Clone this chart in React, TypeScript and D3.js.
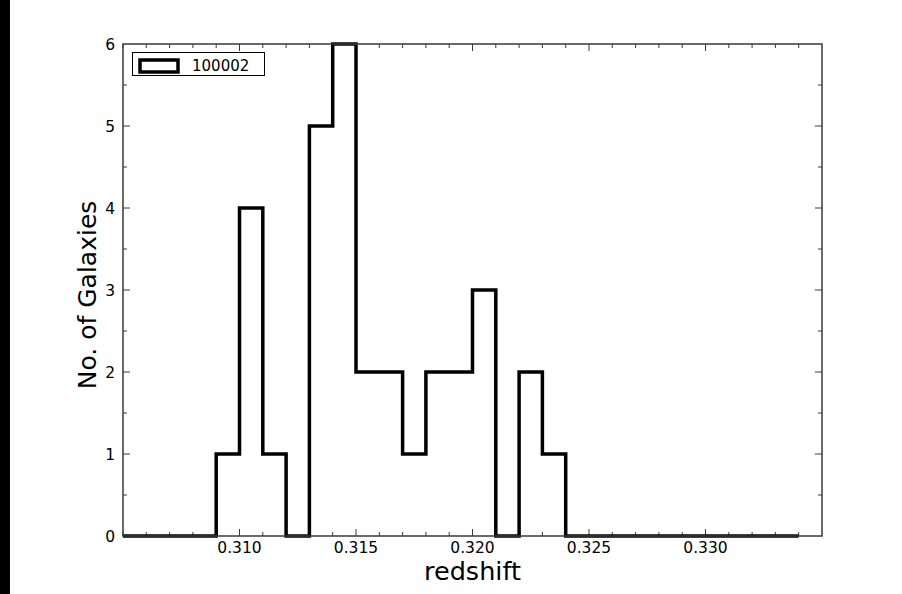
import React, { useEffect, useRef } from 'react';
import * as d3 from 'd3';

// bin left edges (redshift), last value closes the final bin
const binEdges = [
  0.305, 0.306, 0.307, 0.308, 0.309, 0.31, 0.311, 0.312, 0.313, 0.314,
  0.315, 0.316, 0.317, 0.318, 0.319, 0.32, 0.321, 0.322, 0.323, 0.324,
  0.325, 0.326, 0.327, 0.328, 0.329, 0.33, 0.331, 0.332, 0.333, 0.334,
];
// galaxy counts per bin
const counts = [0, 0, 0, 0, 1, 4, 1, 0, 5, 6, 2, 2, 1, 2, 2, 3, 0, 2, 1, 0, 0, 0, 0, 0, 0, 0, 0, 0, 0];

const xMajorTicks = [0.31, 0.315, 0.32, 0.325, 0.33];
const yMajorTicks = [0, 1, 2, 3, 4, 5, 6];
const seriesName = '100002';

const W = 902;
const H = 594;
const margin = { top: 44, right: 80, bottom: 58, left: 123 };
const font = '"DejaVu Sans", sans-serif';

export default function App() {
  const ref = useRef<SVGSVGElement>(null);

  useEffect(() => {
    const svg = d3.select(ref.current);
    svg.selectAll('*').remove();

    const innerW = W - margin.left - margin.right;
    const innerH = H - margin.top - margin.bottom;

    const x = d3.scaleLinear().domain([0.305, 0.335]).range([margin.left, margin.left + innerW]);
    const y = d3.scaleLinear().domain([0, 6]).range([margin.top + innerH, margin.top]);

    svg.append('rect').attr('width', W).attr('height', H).attr('fill', '#fff');
    // dark strip at left edge
    svg.append('rect').attr('x', 0).attr('y', 0).attr('width', 10).attr('height', H).attr('fill', '#000');

    const frameColor = '#3a3a3a';
    const x0 = x.range()[0], x1 = x.range()[1];
    const y0 = y.range()[0], y1 = y.range()[1];

    // ticks (all pointing inward)
    const xMinor = d3.range(0, 30).map(i => 0.305 + i * 0.001).filter(v => !xMajorTicks.some(m => Math.abs(m - v) < 1e-6));
    const yMinor = d3.range(0.5, 6, 1);
    const g = svg.append('g').attr('stroke', frameColor).attr('stroke-width', 1);

    const addXTicks = (vals: number[], len: number) => {
      vals.forEach(v => {
        g.append('line').attr('x1', x(v)).attr('x2', x(v)).attr('y1', y0).attr('y2', y0 - len);
        g.append('line').attr('x1', x(v)).attr('x2', x(v)).attr('y1', y1).attr('y2', y1 + len);
      });
    };
    const addYTicks = (vals: number[], len: number) => {
      vals.forEach(v => {
        g.append('line').attr('x1', x0).attr('x2', x0 + len).attr('y1', y(v)).attr('y2', y(v));
        g.append('line').attr('x1', x1).attr('x2', x1 - len).attr('y1', y(v)).attr('y2', y(v));
      });
    };
    addXTicks(xMajorTicks, 7);
    addXTicks(xMinor, 4);
    addYTicks(yMajorTicks.slice(1, -1), 7);
    addYTicks(yMinor, 4);

    // tick labels
    svg.append('g')
      .selectAll('text')
      .data(xMajorTicks)
      .join('text')
      .attr('x', d => x(d))
      .attr('y', y0 + 17)
      .attr('text-anchor', 'middle')
      .attr('font-family', font)
      .attr('font-size', 15.5)
      .text(d => d3.format('.3f')(d));

    svg.append('g')
      .selectAll('text')
      .data(yMajorTicks)
      .join('text')
      .attr('x', x0 - 8)
      .attr('y', d => y(d) + 6)
      .attr('text-anchor', 'end')
      .attr('font-family', font)
      .attr('font-size', 15.5)
      .text(d => d);

    // histogram step line
    const pts: [number, number][] = binEdges.map((e, i) => [e, i < counts.length ? counts[i] : counts[counts.length - 1]]);
    const line = d3.line<[number, number]>()
      .x(d => x(d[0]))
      .y(d => y(d[1]))
      .curve(d3.curveStepAfter);
    svg.append('path')
      .attr('d', line(pts))
      .attr('fill', 'none')
      .attr('stroke', '#000')
      .attr('stroke-width', 3.5)
      .attr('stroke-linejoin', 'miter');

    // frame
    svg.append('rect')
      .attr('x', x0).attr('y', y1)
      .attr('width', x1 - x0).attr('height', y0 - y1)
      .attr('fill', 'none')
      .attr('stroke', frameColor)
      .attr('stroke-width', 1.5);

    // legend
    const lg = svg.append('g');
    lg.append('rect')
      .attr('x', 132.5).attr('y', 52.5).attr('width', 132).attr('height', 23)
      .attr('fill', '#fff').attr('stroke', '#000').attr('stroke-width', 1);
    lg.append('rect')
      .attr('x', 140).attr('y', 60).attr('width', 38).attr('height', 12)
      .attr('fill', 'none').attr('stroke', '#000').attr('stroke-width', 3.5);
    lg.append('text')
      .attr('x', 192).attr('y', 71)
      .attr('font-family', font).attr('font-size', 15)
      .text(seriesName);

    // axis titles
    svg.append('text')
      .attr('x', (x0 + x1) / 2)
      .attr('y', 580)
      .attr('text-anchor', 'middle')
      .attr('font-family', font)
      .attr('font-size', 25.5)
      .text('redshift');

    svg.append('text')
      .attr('transform', `translate(96,295) rotate(-90)`)
      .attr('text-anchor', 'middle')
      .attr('font-family', font)
      .attr('font-size', 25)
      .text('No. of Galaxies');
  }, []);

  return (
    <svg
      ref={ref}
      width={W}
      height={H}
      style={{ position: 'absolute', left: 0, top: 0, display: 'block' }}
    />
  );
}
